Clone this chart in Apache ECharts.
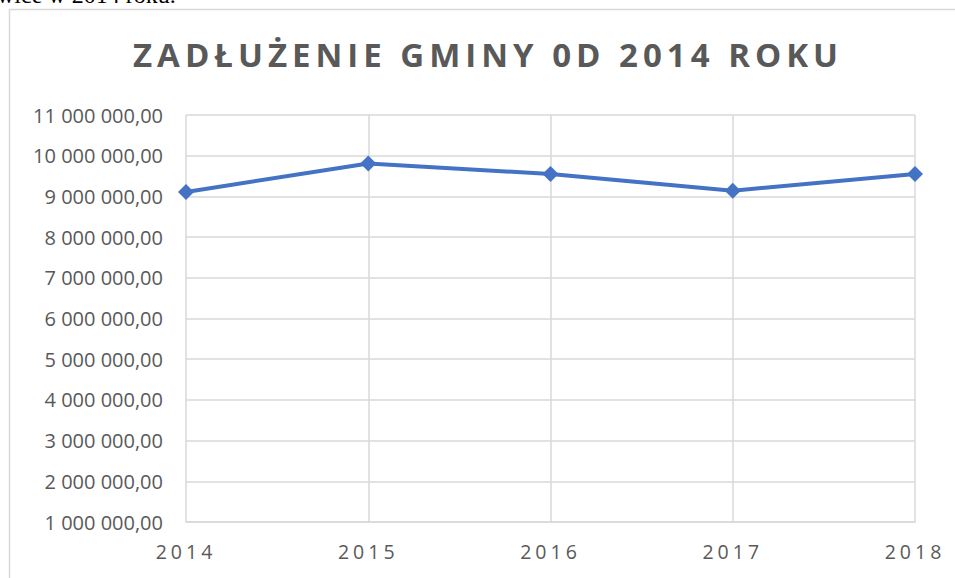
<!DOCTYPE html>
<html>
<head>
<meta charset="utf-8">
<title>Zadłużenie gminy od 2014 roku</title>
<script src="https://cdn.jsdelivr.net/npm/echarts@6/dist/echarts.min.js"></script>
<style>
  html, body { margin: 0; padding: 0; background: #fff; }
  #chart { width: 955px; height: 578px; }
  /* the original chart spreads its title and year labels out */
  #chart text[style*="33px"] { letter-spacing: 5px; }
  #chart text[style*="19.5px"] { letter-spacing: 4px; }
</style>
</head>
<body>
<div id="chart"></div>
<script>
// --- data ---
var years = ['2014', '2015', '2016', '2017', '2018'];
var debt = [9110000, 9810000, 9550000, 9140000, 9550000];
var yMin = 1000000;
var yMax = 11000000;
var yStep = 1000000;

// 11000000 -> "11 000 000,00"
function plMoney(v) {
    var parts = v.toFixed(2).split('.');
    return parts[0].replace(/\B(?=(\d{3})+(?!\d))/g, '\u00a0') + ',' + parts[1];
}

var chart = echarts.init(document.getElementById('chart'), null, { renderer: 'svg' });

chart.setOption({
    animation: false,
    backgroundColor: '#ffffff',
    title: {
        text: 'ZADŁUŻENIE GMINY 0D 2014 ROKU',
        left: 128,   // fixed, since letter-spacing widens the text past what 'center' measures
        top: 33,
        textStyle: {
            fontFamily: 'Open Sans',
            fontWeight: 'bold',
            fontSize: 33,
            color: '#595959'
        }
    },
    graphic: [
        {
            // frame of the embedded chart
            type: 'rect',
            shape: { x: 9.5, y: 9.5, width: 1000, height: 600 },
            style: { fill: 'none', stroke: '#d9d9d9', lineWidth: 1.5 },
            silent: true
        },
        {
            // end of the document line above the chart, cut by the page
            type: 'text',
            left: -3,
            top: -17,
            style: {
                text: 'wice w 2014 roku.',
                font: '24px "Liberation Serif"',
                fill: '#000000'
            },
            silent: true
        }
    ],
    grid: { left: 186, right: 40, top: 115, bottom: 56 },
    xAxis: {
        type: 'category',
        data: years,
        boundaryGap: false,
        axisLine: { lineStyle: { color: '#d9d9d9', width: 1.5 } },
        axisTick: { show: false },
        axisLabel: {
            margin: 19,
            fontFamily: 'Open Sans',
            fontSize: 19.5,
            color: '#595959'
        },
        splitLine: { show: true, lineStyle: { color: '#d9d9d9', width: 1.5 } }
    },
    yAxis: {
        type: 'value',
        min: yMin,
        max: yMax,
        interval: yStep,
        axisLine: { show: false },
        axisTick: { show: false },
        axisLabel: {
            margin: 23,
            fontFamily: 'Open Sans',
            fontSize: 20,
            color: '#595959',
            formatter: plMoney
        },
        splitLine: { lineStyle: { color: '#d9d9d9', width: 1.5 } }
    },
    series: [{
        type: 'line',
        data: debt,
        symbol: 'diamond',
        symbolSize: 16,
        lineStyle: { color: '#4472c4', width: 4 },
        itemStyle: { color: '#4472c4' }
    }]
});
</script>
</body>
</html>
